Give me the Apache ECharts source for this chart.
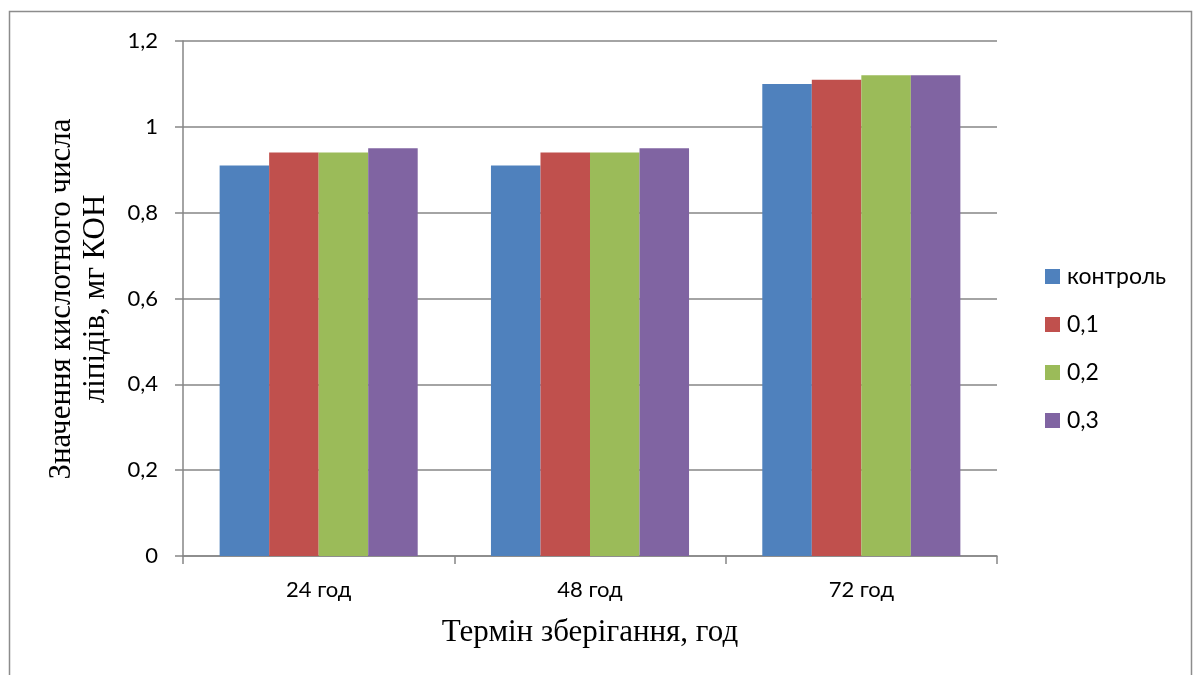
<!DOCTYPE html>
<html>
<head>
<meta charset="utf-8">
<script src="https://cdn.jsdelivr.net/npm/echarts@6/dist/echarts.min.js"></script>
<style>
  html, body { margin: 0; padding: 0; background: #ffffff; }
  #chart { width: 1197px; height: 675px; }
</style>
</head>
<body>
<div id="chart"></div>
<script>
// Storage periods and acid-value measurements per additive dose
const categories = ['24 год', '48 год', '72 год'];
const seriesNames = ['контроль', '0,1', '0,2', '0,3'];
const kontrol = [0.91, 0.91, 1.10];
const dose01 = [0.94, 0.94, 1.11];
const dose02 = [0.94, 0.94, 1.12];
const dose03 = [0.95, 0.95, 1.12];
const yTicks = [0, 0.2, 0.4, 0.6, 0.8, 1, 1.2];

const colors = ['#4f81bd', '#c0504d', '#9bbb59', '#8064a2'];
const values = [kontrol, dose01, dose02, dose03];
const axisGray = '#868686';
const sansFont = 'Lato, "Open Sans", sans-serif';
const serifFont = '"Liberation Serif", "Times New Roman", serif';

const chart = echarts.init(document.getElementById('chart'));
chart.setOption({
  animation: false,
  color: colors,
  graphic: [{
    type: 'rect',
    shape: { x: 9.5, y: 11.5, width: 1182, height: 700 },
    style: { fill: 'none', stroke: '#8c8c8c', lineWidth: 1.5 },
    silent: true
  }, {
    // rotated two-line y-axis title
    type: 'text',
    x: 79,
    y: 299,
    rotation: Math.PI / 2,
    silent: true,
    style: {
      text: 'Значення кислотного числа\nліпідів, мг КОН',
      font: '31px ' + serifFont,
      fill: '#000',
      align: 'center',
      verticalAlign: 'middle',
      lineHeight: 34
    }
  }],
  grid: { left: 183, right: 200, top: 41, bottom: 119, containLabel: false },
  legend: {
    orient: 'vertical',
    left: 1040,
    top: 260,
    itemWidth: 15,
    itemHeight: 15,
    itemGap: 25,
    icon: 'rect',
    textStyle: { fontSize: 23, fontFamily: sansFont, color: '#000', padding: [0, 0, 0, 2] },
    data: seriesNames
  },
  xAxis: {
    type: 'category',
    data: categories,
    name: 'Термін зберігання, год',
    nameLocation: 'middle',
    nameGap: 61,
    nameTextStyle: { fontSize: 31, fontFamily: serifFont, color: '#000', verticalAlign: 'top' },
    axisLine: { lineStyle: { color: axisGray, width: 1.5 } },
    axisTick: { show: true, length: 8, alignWithLabel: false, lineStyle: { color: axisGray, width: 1.5 } },
    axisLabel: { fontSize: 22, fontFamily: sansFont, color: '#000', margin: 23 },
    splitLine: { show: false }
  },
  yAxis: {
    type: 'value',
    min: 0,
    max: 1.2,
    interval: 0.2,
    axisLine: { show: true, lineStyle: { color: axisGray, width: 1.5 } },
    axisTick: { show: true, inside: false, length: 8, lineStyle: { color: axisGray, width: 1.5 } },
    axisLabel: {
      fontSize: 22,
      fontFamily: sansFont,
      color: '#000',
      margin: 25,
      formatter: v => {
        const t = yTicks.find(k => Math.abs(k - v) < 1e-9);
        return String(t !== undefined ? t : v).replace('.', ',');
      }
    },
    splitLine: { show: true, lineStyle: { color: axisGray, width: 1.5 } }
  },
  series: seriesNames.map((name, i) => ({
    name: name,
    type: 'bar',
    data: values[i],
    barGap: '0%',
    barCategoryGap: '27%',
    itemStyle: { color: colors[i] }
  }))
});
</script>
</body>
</html>
